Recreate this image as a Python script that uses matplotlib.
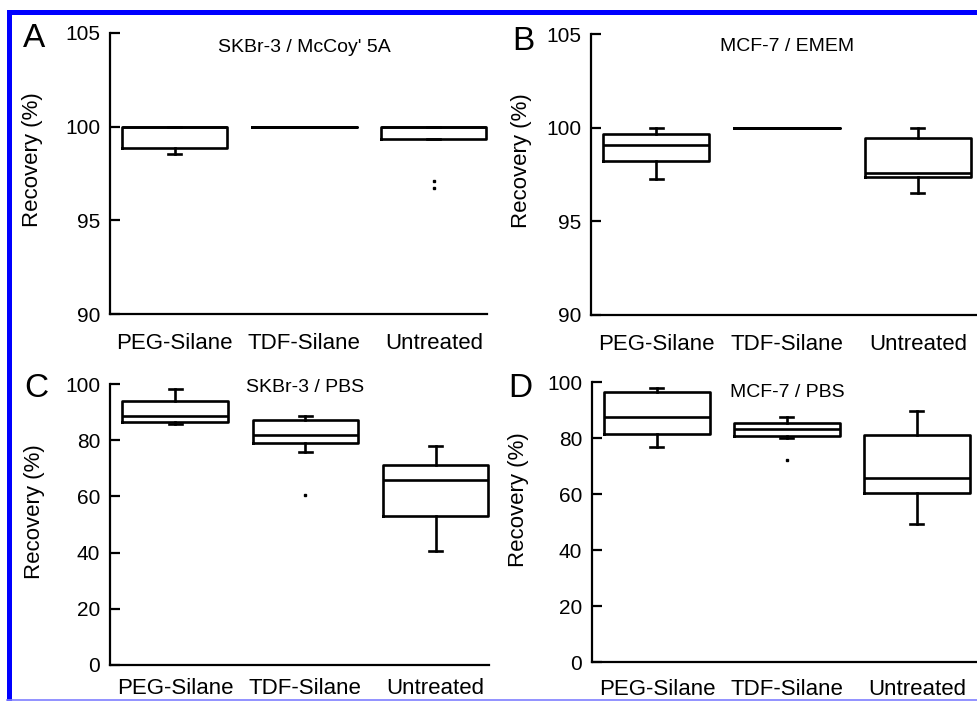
import matplotlib
matplotlib.use('Agg')
import matplotlib.pyplot as plt
from matplotlib.patches import Rectangle
from matplotlib.lines import Line2D
import matplotlib.transforms as mtrans

plt.rcParams['font.family'] = ['Liberation Sans', 'DejaVu Sans']

groups = ['PEG-Silane', 'TDF-Silane', 'Untreated']

# A: SKBr-3 / McCoy' 5A
a_whislo = [98.55, 100, 99.35]
a_q1 = [98.85, 100, 99.35]
a_med = [100, 100, 100]
a_q3 = [100, 100, 100]
a_whishi = [100, 100, 100]
a_fliers = [[], [], [97.1, 96.75]]

# B: MCF-7 / EMEM
b_whislo = [97.25, 100, 96.5]
b_q1 = [98.2, 100, 97.37]
b_med = [99.1, 100, 97.6]
b_q3 = [99.68, 100, 99.43]
b_whishi = [100, 100, 100]
b_fliers = [[], [], []]

# C: SKBr-3 / PBS
c_whislo = [85.9, 75.8, 40.7]
c_q1 = [86.5, 78.9, 53.1]
c_med = [88.6, 81.8, 65.9]
c_q3 = [93.8, 87.1, 71.3]
c_whishi = [98.3, 88.7, 78.0]
c_fliers = [[], [60.6], []]

# D: MCF-7 / PBS
d_whislo = [76.7, 79.9, 49.4]
d_q1 = [81.5, 80.6, 60.2]
d_med = [87.5, 83.1, 65.7]
d_q3 = [96.3, 85.3, 81.2]
d_whishi = [98.0, 87.4, 89.7]
d_fliers = [[], [72.2], []]

ticks_top = [90, 95, 100, 105]
ticks_bot = [0, 20, 40, 60, 80, 100]

W, H = 978, 701
fig = plt.figure(figsize=(W / 100, H / 100), dpi=100)


def px(l, r, t, b):
    # pixel box -> figure fraction
    return [l / W, (H - b) / H, (r - l) / W, (b - t) / H]


panels = [
    # letter, title, data, rect, xlim, ylim, ticks, letter pos, title y, ylabel coords, xpad
    ('A', "SKBr-3 / McCoy' 5A", (a_whislo, a_q1, a_med, a_q3, a_whishi, a_fliers),
     px(110, 487, 33, 314), 2.41, (90, 105), ticks_top, (23, 47), 0.95, (-0.178, 0.548), 14),
    ('B', 'MCF-7 / EMEM', (b_whislo, b_q1, b_med, b_q3, b_whishi, b_fliers),
     px(591, 978, 34, 315), 2.46, (90, 105), ticks_top, (512, 50), 0.954, (-0.152, 0.55), 14),
    ('C', 'SKBr-3 / PBS', (c_whislo, c_q1, c_med, c_q3, c_whishi, c_fliers),
     px(110, 489, 384, 665), 2.41, (0, 100), ticks_bot, (24, 397), 0.986, (-0.171, 0.546), 9.5),
    ('D', 'MCF-7 / PBS', (d_whislo, d_q1, d_med, d_q3, d_whishi, d_fliers),
     px(592, 978, 382, 662), 2.47, (0, 100), ticks_bot, (508, 397), 0.964, (-0.163, 0.58), 12),
]

lw = 1.9
for letter, title, data, rect, xr, ylim, ticks, lpos, ty, ylc, xpad in panels:
    ax = fig.add_axes(rect)
    wlo, q1, med, q3, whi, fl = data
    stats = []
    for i in range(3):
        stats.append(dict(whislo=wlo[i], q1=q1[i], med=med[i], q3=q3[i],
                          whishi=whi[i], fliers=fl[i]))
    art = ax.bxp(stats, positions=[0, 1, 2], widths=0.81, capwidths=0.1,
                 boxprops=dict(color='k', lw=lw),
                 whiskerprops=dict(color='k', lw=lw),
                 capprops=dict(color='k', lw=lw),
                 medianprops=dict(color='k', lw=lw),
                 flierprops=dict(marker='s', ms=2, mfc='k', mec='k', ls='none'),
                 manage_ticks=False)
    for key in art:
        for a in art[key]:
            a.set_clip_on(False)

    ax.set_xlim(-0.5, xr)
    ax.set_ylim(*ylim)
    ax.set_yticks(ticks)
    ax.set_xticks([0, 1, 2])
    ax.set_xticklabels(groups)
    for s in ['top', 'right']:
        ax.spines[s].set_visible(False)
    for s in ['left', 'bottom']:
        ax.spines[s].set_linewidth(1.6)
    ax.tick_params(axis='y', direction='in', length=7, width=1.6, labelsize=15, pad=7)
    ax.tick_params(axis='x', length=0, labelsize=16, pad=xpad)
    ax.set_ylabel('Recovery (%)', fontsize=16)
    ax.yaxis.set_label_coords(*ylc)

    trans = mtrans.blended_transform_factory(ax.transData, ax.transAxes)
    ax.text(1, ty, title, transform=trans, ha='center', va='center', fontsize=14)

    fig.text(lpos[0] / W, (H - lpos[1]) / H, letter, fontsize=24,
             ha='left', va='baseline')

# blue frame
fig.add_artist(Rectangle((7 / W, (H - 15) / H), 1, 5.5 / H,
                         transform=fig.transFigure, color='#0000ff', lw=0))
fig.add_artist(Rectangle((7 / W, 0), 5 / W, (H - 10) / H,
                         transform=fig.transFigure, color='#0000ff', lw=0))
fig.add_artist(Line2D([7 / W, 1], [1.2 / H, 1.2 / H],
                      transform=fig.transFigure, color='#7f7fff', lw=1.2))

fig.savefig('out.png', dpi=100)
